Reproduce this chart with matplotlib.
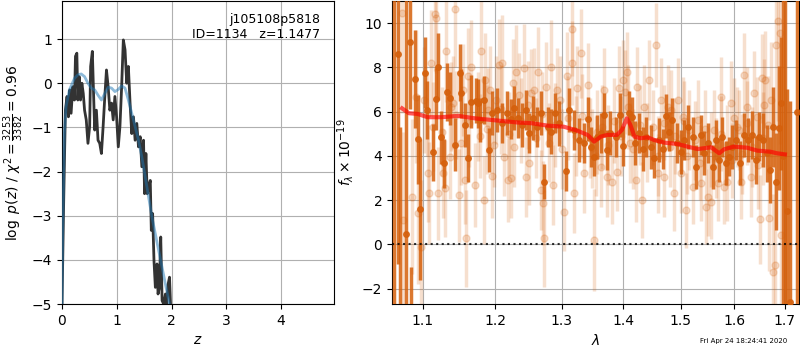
import matplotlib
matplotlib.use('Agg')
import matplotlib.pyplot as plt
from matplotlib.ticker import NullLocator, FixedLocator, FixedFormatter

# --- p(z) panel
z_pdf = [0.0, 0.031, 0.062, 0.092, 0.117, 0.142, 0.166, 0.197, 0.228, 0.246,
         0.271, 0.289, 0.314, 0.338, 0.363, 0.388, 0.412, 0.443, 0.474, 0.505,
         0.523, 0.554, 0.578, 0.597, 0.628, 0.658, 0.689, 0.720, 0.751, 0.782,
         0.812, 0.843, 0.874, 0.905, 0.935, 0.966, 0.997, 1.028, 1.058, 1.089,
         1.120, 1.151, 1.182, 1.212, 1.243, 1.274, 1.305, 1.335, 1.366, 1.397,
         1.428, 1.458, 1.489, 1.508, 1.532, 1.557, 1.582, 1.612, 1.631, 1.655,
         1.680, 1.705, 1.735, 1.754, 1.778, 1.803, 1.828, 1.858, 1.889, 1.914,
         1.938, 1.963, 1.982, 2.0]
logp = [-5.0, -2.65, -0.61, -0.30, -0.76, -0.15, -0.68, -0.08, -0.38, 0.61,
        0.68, -0.38, 0.15, -0.38, 0.0, -0.23, -0.61, -0.83, -1.36, -0.98,
        0.38, 0.72, -0.30, -1.06, -0.61, -1.29, -1.36, -1.59, -0.98, -0.30,
        0.30, -0.08, -0.61, -0.45, -0.83, -0.30, -0.76, -1.44, -0.98, -0.08,
        0.98, 0.76, 0.0, 0.38, -0.45, -1.14, -0.76, -1.29, -0.91, -1.44,
        -1.21, -1.89, -1.29, -2.50, -1.59, -2.50, -2.35, -2.20, -3.33, -2.95,
        -4.02, -4.62, -4.09, -4.77, -4.62, -3.48, -4.92, -5.0, -4.77, -5.0,
        -4.55, -4.39, -5.0, -5.6]

z_smooth = [0.0, 0.012, 0.043, 0.074, 0.135, 0.228, 0.289, 0.351, 0.412, 0.474,
            0.535, 0.597, 0.658, 0.720, 0.782, 0.843, 0.905, 0.966, 1.028, 1.089,
            1.151, 1.212, 1.274, 1.335, 1.397, 1.458, 1.520, 1.582, 1.643, 1.705,
            1.766, 1.828, 1.889, 1.951, 1.982]
logp_smooth = [-5.0, -3.41, -1.14, -0.53, -0.15, 0.11, 0.19, 0.21, 0.15, 0.0,
               -0.11, -0.15, -0.27, -0.38, -0.23, -0.09, -0.11, -0.19, -0.14, -0.06,
               -0.11, -0.38, -0.68, -0.98, -1.29, -1.67, -2.12, -2.58, -3.03, -3.41,
               -3.79, -4.17, -4.55, -4.92, -5.15]

# --- spectrum panel: binned (dark) points
lam_bin = [1.0620, 1.0674, 1.0700, 1.0780, 1.0826, 1.0850, 1.0894, 1.0936, 1.0963, 1.1028,
           1.1060, 1.1130, 1.1170, 1.1200, 1.1240, 1.1280, 1.1320, 1.1360, 1.1430, 1.1500,
           1.1520, 1.1570, 1.1610, 1.1660, 1.1720, 1.1750, 1.1790, 1.1840, 1.1910, 1.1960,
           1.2030, 1.2100, 1.2170, 1.2230, 1.2280, 1.2330, 1.2400, 1.2450, 1.2505, 1.2555,
           1.2620, 1.2680, 1.2730, 1.2780, 1.2830, 1.2890, 1.2955, 1.3065, 1.3110, 1.3190,
           1.3270, 1.3350, 1.3410, 1.3460, 1.3520, 1.3570, 1.3630, 1.3680, 1.3730, 1.3780,
           1.3870, 1.3940, 1.4000, 1.4090, 1.4150, 1.4205, 1.4260, 1.4330, 1.4385, 1.4470,
           1.4530, 1.4620, 1.4675, 1.4735, 1.4790, 1.4850, 1.4940, 1.5000, 1.5060, 1.5135,
           1.5215, 1.5280, 1.5360, 1.5420, 1.5490, 1.5585, 1.5645, 1.5710, 1.5770, 1.5835,
           1.5895, 1.5955, 1.6020, 1.6105, 1.6180, 1.6260, 1.6345, 1.6410, 1.6475, 1.6560,
           1.6635, 1.6705, 1.6755, 1.6825, 1.6890, 1.6915, 1.6960, 1.7000, 1.7045, 1.7100,
           1.7240]
flux_bin = [14.0, 8.60, -5.0, 0.45, 9.14, -6.0, 7.48, 4.75, 1.58, 7.77,
            6.08, 4.16, 6.58, 8.04, 4.84, 3.67, 6.90, 6.60, 4.50, 7.77,
            6.83, 5.40, 3.90, 6.45, 6.50, 6.38, 5.63, 6.53, 4.27, 5.93,
            6.08, 5.47, 5.93, 5.66, 6.15, 5.70, 5.40, 6.08, 5.02, 5.70,
            5.32, 5.93, 2.84, 5.32, 5.10, 5.93, 5.47, 3.33, 6.08, 5.17,
            4.72, 4.57, 5.66, 4.42, 3.97, 4.87, 5.02, 5.85, 4.27, 5.02,
            4.87, 5.85, 4.46, 5.93, 5.78, 4.57, 5.02, 4.31, 4.87, 4.42,
            3.89, 4.72, 4.31, 5.80, 5.10, 5.63, 4.57, 4.19, 4.72, 5.32,
            4.87, 3.51, 4.95, 4.12, 4.57, 3.51, 4.72, 3.82, 4.87, 3.67,
            3.97, 4.42, 4.72, 3.67, 4.95, 4.72, 4.95, 3.82, 4.87, 4.72,
            4.12, 3.36, 5.32, 2.84, 5.25, 6.38, 4.0, 12.0, 1.51, -2.6,
            6.0]
err_bin = [17.5, 9.5, 10.3, 12.0, 3.0, 5.0, 2.2, 2.0, 3.2, 1.6,
           1.3, 1.3, 1.4, 1.5, 1.2, 1.1, 1.3, 1.2, 1.2, 1.3,
           1.1, 1.0, 1.1, 1.2, 1.0, 1.1, 1.0, 1.1, 1.0, 1.0,
           1.0, 0.9, 1.0, 0.9, 1.0, 0.9, 1.0, 0.9, 0.9, 1.0,
           0.9, 1.0, 0.8, 0.9, 1.0, 0.9, 1.0, 0.9, 1.0, 0.9,
           1.0, 0.9, 1.0, 0.9, 0.9, 1.0, 0.9, 1.0, 0.9, 1.0,
           0.9, 1.0, 0.9, 1.0, 0.9, 1.0, 0.9, 1.0, 0.9, 1.0,
           0.9, 1.0, 0.9, 1.0, 0.9, 1.0, 0.9, 1.0, 0.9, 1.0,
           0.9, 1.0, 0.9, 1.0, 0.9, 1.0, 0.9, 1.0, 0.9, 1.0,
           0.9, 1.0, 0.9, 1.0, 1.0, 1.0, 1.1, 1.1, 1.1, 1.2,
           1.3, 1.5, 1.8, 2.2, 2.8, 3.0, 15.0, 16.0, 5.5, 9.1,
           14.0]

# --- spectrum panel: unbinned (light) points
lam_raw = [1.0729, 1.0742, 1.0853, 1.0907, 1.0938, 1.0973, 1.1018, 1.1064, 1.1087, 1.1110,
           1.1133, 1.1156, 1.1179, 1.1202, 1.1271, 1.1294, 1.1317, 1.1362, 1.1385, 1.1431,
           1.1454, 1.1486, 1.1546, 1.1569, 1.1592, 1.1615, 1.1661, 1.1706, 1.1752, 1.1798,
           1.1835, 1.1853, 1.1890, 1.1927, 1.1959, 1.2005, 1.2055, 1.2105, 1.2130, 1.2180,
           1.2230, 1.2255, 1.2305, 1.2355, 1.2430, 1.2455, 1.2505, 1.2530, 1.2580, 1.2630,
           1.2680, 1.2705, 1.2730, 1.2755, 1.2830, 1.2870, 1.2930, 1.2980, 1.3032, 1.3156,
           1.3086, 1.3167, 1.3194, 1.3247, 1.3301, 1.3355, 1.3409, 1.3489, 1.3516, 1.3570,
           1.3624, 1.3677, 1.3731, 1.3812, 1.3892, 1.3919, 1.4000, 1.4029, 1.4059, 1.4118,
           1.4206, 1.4235, 1.4324, 1.4353, 1.4441, 1.4559, 1.4588, 1.4647, 1.4706, 1.4765,
           1.4824, 1.4882, 1.4941, 1.5000, 1.5031, 1.5093, 1.5154, 1.5216, 1.5309, 1.5370,
           1.5463, 1.5494, 1.5556, 1.5617, 1.5679, 1.5741, 1.5802, 1.5864, 1.5926, 1.5988,
           1.6085, 1.6118, 1.6183, 1.6248, 1.6314, 1.6379, 1.6444, 1.6497, 1.6529, 1.6575,
           1.6608, 1.6673, 1.6719, 1.6758, 1.6804, 1.6824, 1.6869, 1.6902, 1.6915,
           1.105, 1.125, 1.140, 1.152, 1.163, 1.178, 1.188, 1.198, 1.208, 1.220,
           1.228, 1.238, 1.248, 1.260, 1.270, 1.280, 1.290, 1.300, 1.310, 1.322,
           1.332, 1.345, 1.355, 1.365, 1.375, 1.385, 1.396, 1.408, 1.417, 1.428,
           1.440, 1.450, 1.460, 1.470, 1.480, 1.490, 1.505, 1.512, 1.525, 1.535,
           1.545, 1.555, 1.565, 1.575, 1.585, 1.595, 1.605, 1.615, 1.625, 1.635,
           1.645, 1.655, 1.665]
flux_raw = [10.45, 1.10, 2.16, 6.68, 1.40, -0.11, 6.53, 3.21, 2.34, 8.19,
            5.32, 10.42, 10.23, 2.31, 3.21, 2.53, 8.72, 3.97, 6.23, 10.63,
            5.85, 2.23, 6.98, 2.91, 0.27, 7.59, 8.04, 2.68, 5.78, 8.72,
            2.01, 7.44, 6.08, 6.98, 3.09, 6.53, 8.11, 8.19, 3.97, 2.91,
            2.99, 7.29, 7.81, 6.76, 7.96, 3.06, 3.67, 6.83, 6.98, 7.81,
            2.46, 1.86, 0.27, 7.13, 8.04, 2.68, 6.98, 6.53, 1.48, 9.73,
            7.59, 8.19, 2.31, 7.06, 8.64, 3.21, 7.21, 4.34, 0.20, 5.10,
            3.51, 6.98, 3.06, 2.84, 3.29, 7.06, 7.44, 6.91, 7.81, 4.57,
            2.91, 7.13, 2.01, 6.23, 7.44, 9.02, 3.21, 6.53, 3.06, 6.23,
            6.08, 2.31, 6.53, 3.21, 5.78, 1.55, 5.17, 2.61, 5.63, 2.76,
            1.70, 2.16, 1.93, 5.17, 2.76, 6.68, 2.61, 2.84, 6.38, 5.70,
            5.17, 2.84, 7.66, 6.23, 3.06, 6.83, 5.78, 1.13, 7.51, 6.30,
            7.44, 1.18, 6.53, -1.24, -0.94, 9.02, 10.08, 9.55, 0.42,
            5.9, 5.1, 6.4, 4.6, 5.5, 4.9, 5.2, 4.5, 6.1, 5.0,
            4.4, 5.6, 6.3, 4.8, 5.9, 4.6, 5.4, 4.3, 5.7, 4.9,
            5.8, 4.8, 4.0, 5.3, 4.5, 5.6, 4.9, 6.2, 4.3, 5.4,
            4.6, 5.3, 4.0, 5.5, 4.4, 4.9, 5.6, 4.0, 4.7, 3.7,
            5.2, 4.3, 3.9, 5.0, 4.5, 3.8, 5.3, 4.1, 5.5, 4.4,
            3.6, 4.8, 5.4]
err_raw = [4.5, 4.0, 3.5, 3.0, 3.2, 3.0, 2.4, 2.2, 2.3, 2.4,
           2.0, 2.6, 2.5, 2.1, 2.0, 2.2, 2.3, 1.9, 2.0, 2.6,
           2.0, 2.1, 2.1, 2.0, 2.2, 2.2, 2.1, 1.9, 2.0, 2.3,
           2.0, 2.1, 1.9, 2.0, 1.9, 2.0, 2.1, 2.2, 1.8, 1.9,
           1.8, 2.0, 2.1, 1.9, 2.0, 1.8, 1.9, 2.0, 1.9, 2.0,
           1.8, 1.9, 2.2, 2.0, 2.1, 1.8, 1.9, 2.0, 1.8, 2.1,
           2.0, 1.9, 1.8, 1.9, 2.0, 1.8, 1.9, 1.8, 2.3, 1.9,
           1.8, 1.9, 1.8, 1.9, 1.8, 1.9, 1.8, 1.9, 1.8, 1.8,
           1.9, 1.8, 1.7, 1.9, 1.8, 1.9, 1.8, 1.9, 1.8, 1.9,
           1.8, 1.7, 1.9, 1.8, 1.8, 1.7, 1.8, 1.7, 1.8, 1.7,
           1.7, 1.8, 1.7, 1.8, 1.7, 1.8, 1.7, 1.8, 1.9, 1.8,
           1.8, 1.7, 1.9, 1.8, 1.8, 1.9, 1.8, 2.0, 2.0, 2.1,
           2.2, 2.4, 2.6, 3.5, 3.8, 4.0, 4.5, 5.0, 5.0,
           1.9, 2.0, 2.1, 1.9, 2.0, 1.9, 2.0, 1.9, 2.0, 1.9,
           1.8, 1.9, 2.0, 1.8, 1.9, 1.8, 1.9, 1.8, 1.9, 1.8,
           1.9, 1.8, 1.8, 1.9, 1.8, 1.9, 1.8, 1.9, 1.8, 1.8,
           1.8, 1.7, 1.8, 1.7, 1.8, 1.7, 1.8, 1.7, 1.8, 1.7,
           1.8, 1.7, 1.8, 1.7, 1.8, 1.7, 1.8, 1.8, 1.9, 1.8,
           2.0, 2.1, 2.2]

# --- best-fit model
lam_model = [1.0729, 1.0818, 1.0929, 1.1064, 1.1248, 1.1477, 1.1706, 1.2030, 1.2330, 1.2530,
             1.2780, 1.3032, 1.3247, 1.3409, 1.3516, 1.3624, 1.3731, 1.3892, 1.3973, 1.4059,
             1.4118, 1.4188, 1.4294, 1.4412, 1.4529, 1.4706, 1.4941, 1.5123, 1.5309, 1.5556,
             1.5710, 1.5802, 1.5988, 1.6248, 1.6444, 1.6706, 1.6837, 1.7000]
flux_model = [6.15, 5.93, 5.90, 5.75, 5.75, 5.81, 5.70, 5.60, 5.51, 5.48,
              5.37, 5.32, 5.14, 4.95, 4.65, 4.87, 4.95, 4.95, 5.17, 5.70,
              5.40, 4.87, 4.80, 4.84, 4.72, 4.60, 4.54, 4.42, 4.31, 4.39,
              4.12, 4.30, 4.42, 4.37, 4.24, 4.19, 4.12, 4.07]

wave_ticks = [1.1, 1.2, 1.3, 1.4, 1.5, 1.6, 1.7]
grism_color = '#d5600c'

fig = plt.figure(figsize=(8, 3.5), dpi=100)

ax = fig.add_axes([0.0775, 0.131, 0.3395, 0.866])
ax.plot(z_pdf, logp, color='#333333', lw=2, zorder=3)
ax.plot(z_smooth, logp_smooth, color='tab:blue', lw=2, alpha=0.5, zorder=4)
ax.set_xlim(0, 4.96)
ax.set_ylim(-5, 1.86)
ax.set_xlabel('$z$')
ax.set_ylabel(r'$\log\ p(z)$ / $\chi^2=\frac{3253}{3382}=0.96$')
ax.grid()
ax.text(0.95, 0.96, 'j105108p5818\nID=1134   z=1.1477', ha='right', va='top',
        transform=ax.transAxes, fontsize=9)

ax = fig.add_axes([0.49, 0.131, 0.509, 0.866])
ax.errorbar(lam_raw, flux_raw, err_raw, marker='o', ms=5, linestyle='None',
            color=grism_color, alpha=0.2, elinewidth=2.5, zorder=2)
ax.errorbar(lam_bin, flux_bin, err_bin, marker='o', ms=4, linestyle='None',
            color=grism_color, alpha=0.85, elinewidth=2.5, zorder=3)
ax.plot(lam_model, flux_model, color='r', lw=3, alpha=0.65, zorder=5)
ax.axhline(0, color='k', ls=':', lw=1.5, alpha=0.8, zorder=4)
ax.set_xscale('log')
ax.xaxis.set_major_locator(FixedLocator(wave_ticks))
ax.xaxis.set_major_formatter(FixedFormatter([str(w) for w in wave_ticks]))
ax.xaxis.set_minor_locator(NullLocator())
ax.set_xlim(1.06, 1.7295)
ax.set_ylim(-2.7, 11)
ax.set_xlabel(r'$\lambda$')
ax.set_ylabel(r'$f_\lambda\times10^{-19}$')
ax.grid()

fig.text(0.984, 0.026, 'Fri Apr 24 18:24:41 2020', ha='right', va='center', fontsize=5)

fig.savefig('out.png', dpi=100)
